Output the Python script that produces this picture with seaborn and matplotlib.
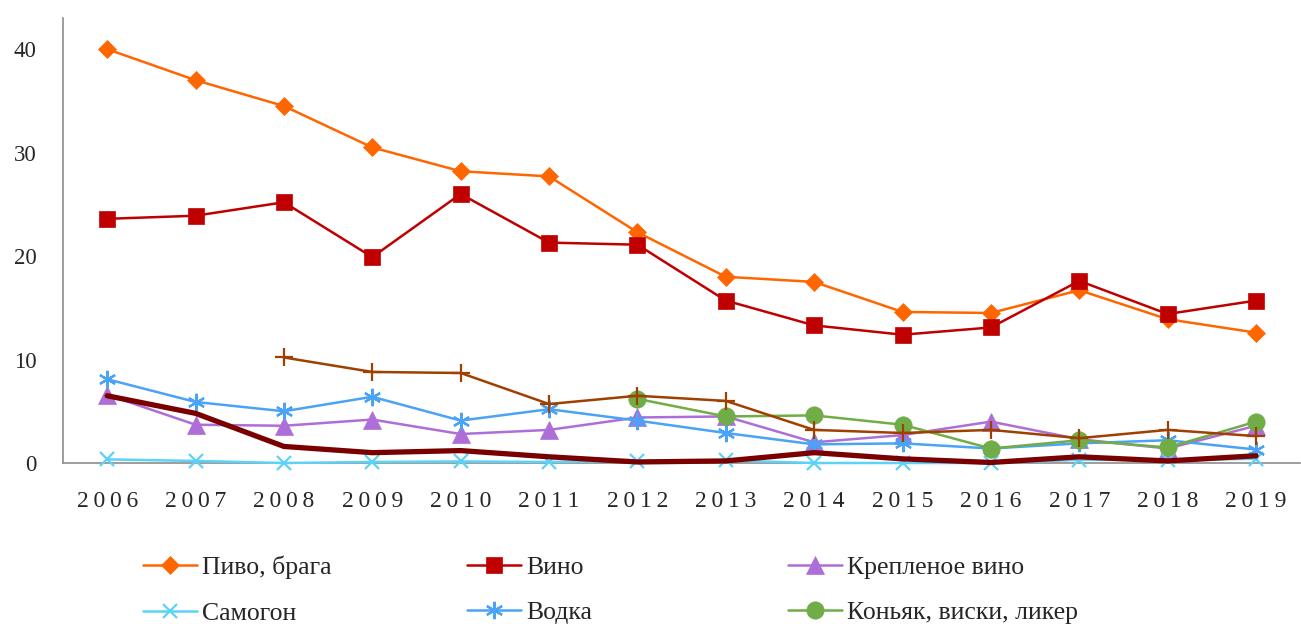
"""Line chart: alcohol consumption structure by year."""

import matplotlib

matplotlib.use("Agg")
import matplotlib.pyplot as plt
import numpy as np
import pandas as pd
import seaborn as sns
from matplotlib.ticker import FixedLocator

years = ["2006", "2007", "2008", "2009", "2010", "2011", "2012",
         "2013", "2014", "2015", "2016", "2017", "2018", "2019"]

beer = [40.0, 37.0, 34.5, 30.5, 28.2, 27.7, 22.3, 18.0, 17.5, 14.6, 14.5, 16.7, 13.9, 12.6]
wine = [23.6, 23.9, 25.2, 19.9, 26.0, 21.3, 21.1, 15.7, 13.3, 12.4, 13.1, 17.6, 14.4, 15.7]
fortified_wine = [6.6, 3.7, 3.6, 4.2, 2.8, 3.2, 4.4, 4.5, 2.0, 2.7, 4.0, 2.3, 1.4, 3.6]
samogon = [0.35, 0.2, 0.0, 0.1, 0.15, 0.1, 0.2, 0.25, 0.0, 0.0, 0.0, 0.3, 0.3, 0.4]
vodka = [8.1, 5.9, 5.0, 6.4, 4.1, 5.2, 4.1, 2.9, 1.8, 1.9, 1.4, 1.9, 2.2, 1.3]
cognac = [np.nan] * 6 + [6.2, 4.5, 4.6, 3.7, 1.4, 2.2, 1.5, 4.0]
low_alcohol = [np.nan] * 2 + [10.2, 8.8, 8.7, 5.7, 6.5, 6.0, 3.2, 2.9, 3.2, 2.4, 3.2, 2.6]
other = [6.5, 4.8, 1.6, 1.0, 1.2, 0.6, 0.1, 0.2, 1.0, 0.4, 0.05, 0.6, 0.2, 0.7]

series = [
    ("Пиво, брага", beer, "#FF6600", "D", 9.5),
    ("Вино", wine, "#C00000", "s", 11.5),
    ("Крепленое вино", fortified_wine, "#AD6FD7", "^", 12.5),
    ("Самогон", samogon, "#5CD2F8", "x", 10.5),
    ("Водка", vodka, "#4AA3F4", (6, 2, 0), 12.5),
    ("Коньяк, виски, ликер", cognac, "#70AD47", "o", 12.5),
    ("Слабоалкогольные напитки", low_alcohol, "#A04000", "+", 12.5),
    ("Прочие", other, "#7A0000", None, 0),
]

sns.set_style("white")
plt.rcParams["font.family"] = ["Liberation Serif", "DejaVu Serif"]

fig = plt.figure(figsize=(13.01, 6.24), dpi=100)
ax = fig.add_axes([0.0484, 0.258, 0.951, 0.713])

handles = {}
x = np.arange(len(years))
for name, values, color, marker, ms in series:
    df = pd.DataFrame({"x": x, "y": values}).dropna()
    lw = 3.8 if marker is None else 1.8
    sns.lineplot(data=df, x="x", y="y", ax=ax, color=color, linewidth=lw,
                 marker=marker, markersize=ms, markeredgecolor=color,
                 markeredgewidth=1.6 if marker in ("x", "+", (6, 2, 0)) else 0.5,
                 clip_on=False, zorder=3)
    handles[name] = ax.lines[-1]

ax.set_xlim(-0.5, len(years) - 0.5)
ax.set_ylim(0, 43)
ax.set_yticks([0, 10, 20, 30, 40])
ax.set_xticks(x)
ax.set_xticklabels(["\u2009".join(y) for y in years])
ax.xaxis.set_minor_locator(FixedLocator(np.arange(-0.5, len(years), 1.0)))
ax.tick_params(axis="x", which="major", length=0, pad=20, labelsize=17)
ax.tick_params(axis="x", which="minor", length=8, width=1.2, color="#8c8c8c", direction="out")
ax.tick_params(axis="y", length=7, width=1.2, color="#8c8c8c", direction="out",
               labelsize=16.5, pad=12)
ax.set_xlabel("")
ax.set_ylabel("")
for side in ("top", "right"):
    ax.spines[side].set_visible(False)
for side in ("left", "bottom"):
    ax.spines[side].set_color("#8c8c8c")
    ax.spines[side].set_linewidth(1.2)

legend_cols = [
    (["Пиво, брага", "Самогон"], 0.110),
    (["Вино", "Водка"], 0.359),
    (["Крепленое вино", "Коньяк, виски, ликер"], 0.6055),
]
for names, xpos in legend_cols:
    fig.legend([handles[n] for n in names], names, loc="upper left",
               bbox_to_anchor=(xpos, 0.109), frameon=False, fontsize=18.5,
               handlelength=2.1, handletextpad=0.2, labelspacing=0.86,
               borderaxespad=0, borderpad=0)

fig.savefig("out.png", dpi=100)
